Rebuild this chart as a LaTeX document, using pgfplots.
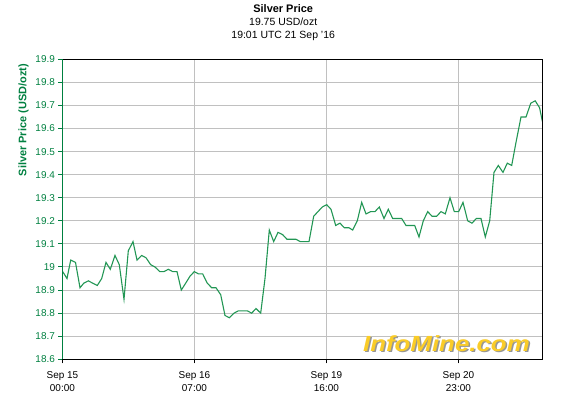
\documentclass[border=0pt]{standalone}
\usepackage{fontspec}
\setmainfont{Liberation Sans}
\usepackage{graphicx}
\usepackage{pgfplots}
\pgfplotsset{compat=1.18}

\definecolor{lineg}{RGB}{34,150,84}
\definecolor{axg}{RGB}{0,128,64}
\definecolor{gridg}{RGB}{192,192,192}
\definecolor{logoy}{RGB}{250,204,40}
\definecolor{logos}{RGB}{150,150,150}

\begin{document}
\begin{tikzpicture}
\path[use as bounding box] (-62.4bp,-42.7bp) rectangle (513.6bp,359.3bp);
\begin{axis}[
    at={(0,0)}, anchor=south west,
    scale only axis, width=480bp, height=300bp,
    xmin=62.4, xmax=542.4, ymin=18.6, ymax=19.9,
    clip mode=individual,
    axis line style={draw=none},
    xtick={62.4,194.4,326.4,458.4},
    xticklabels={Sep 15\\00:00, Sep 16\\07:00, Sep 19\\16:00, Sep 20\\23:00},
    xticklabel style={align=center, font=\fontsize{10}{13.5}\selectfont, text=black, yshift=-4.5bp},
    ytick={18.6,18.7,18.8,18.9,19.0,19.1,19.2,19.3,19.4,19.5,19.6,19.7,19.8,19.9},
    yticklabels={18.6,18.7,18.8,18.9,19,19.1,19.2,19.3,19.4,19.5,19.6,19.7,19.8,19.9},
    yticklabel style={font=\fontsize{10}{12}\selectfont, text=axg},
    tick align=outside, xtick pos=bottom, ytick pos=left,
    major tick length=4bp,
    xtick style={black, line width=1bp},
    ytick style={axg, line width=1bp},
    grid=major, major grid style={gridg, line width=1bp},
    ylabel={Silver Price (USD/ozt)},
    ylabel style={at={(axis description cs:-0.081,0.797)}, anchor=center,
        font=\bfseries\fontsize{11}{13}\selectfont, text=axg},
    title={{\bfseries\fontsize{11}{13}\selectfont Silver Price}\\19.75 USD/ozt\\19:01 UTC 21 Sep {\char"27}16},
    title style={at={(axis description cs:0.46,1.103)}, anchor=center, align=center,
        font=\fontsize{10.5}{13}\selectfont},
]
\addplot[lineg, line width=1.1bp, no markers] table {
x y
62.7 18.98
67 18.95
70.7 19.03
75.5 19.02
80 18.91
83.8 18.93
88.3 18.94
92.7 18.93
97.3 18.92
101.7 18.95
106 19.02
110.3 18.99
115 19.05
119.3 19.01
124 18.86
128.3 19.07
133 19.11
137 19.03
141.7 19.05
146 19.04
150.7 19.01
155 19.00
159.7 18.98
164 18.98
168.3 18.99
172.7 18.98
177 18.98
181.3 18.90
185.7 18.93
190 18.96
194.3 18.98
198.5 18.97
202.7 18.97
207.3 18.93
211.7 18.91
216 18.91
220.7 18.88
225 18.79
229.3 18.78
234 18.80
238.3 18.81
242.7 18.81
247.3 18.81
251.7 18.80
256 18.82
260.7 18.80
265 18.95
269.3 19.16
273.7 19.11
278 19.15
282.7 19.14
287 19.12
291.3 19.12
296 19.12
300.3 19.11
304.7 19.11
309 19.11
313.7 19.22
318 19.24
322.3 19.26
326.7 19.27
331 19.25
335.7 19.18
340 19.19
344.3 19.17
349 19.17
352.7 19.16
357.3 19.20
361.7 19.28
366 19.23
370.7 19.24
375 19.24
379.3 19.26
384 19.21
388.3 19.25
392.7 19.21
397.3 19.21
401.7 19.21
406 19.18
410.3 19.18
414.7 19.18
419 19.13
423.3 19.20
427.7 19.24
432 19.22
436.7 19.22
441 19.24
445.3 19.23
450 19.30
454.3 19.24
458.7 19.24
463 19.28
467.7 19.20
472 19.19
476.3 19.21
481 19.21
485.3 19.13
489.7 19.20
494 19.41
498.3 19.44
503 19.41
507.3 19.45
511.7 19.44
516 19.54
521 19.65
526 19.65
530.8 19.71
535.2 19.72
539.6 19.69
542.4 19.63
};
\draw[black, line width=1.3bp] (rel axis cs:0,1) -- (rel axis cs:1,1) -- (rel axis cs:1,0) -- (rel axis cs:0,0);
\draw[axg, line width=1.3bp] (rel axis cs:0,0) -- (rel axis cs:0,1);
\end{axis}
\node[text=logos] at (385.5bp,14.5bp) {\scalebox{1.18}[1]{\fontsize{22}{22}\selectfont\bfseries\itshape InfoMine.com}};
\node[text=logoy] at (384bp,16bp) {\scalebox{1.18}[1]{\fontsize{22}{22}\selectfont\bfseries\itshape InfoMine.com}};
\end{tikzpicture}
\end{document}
